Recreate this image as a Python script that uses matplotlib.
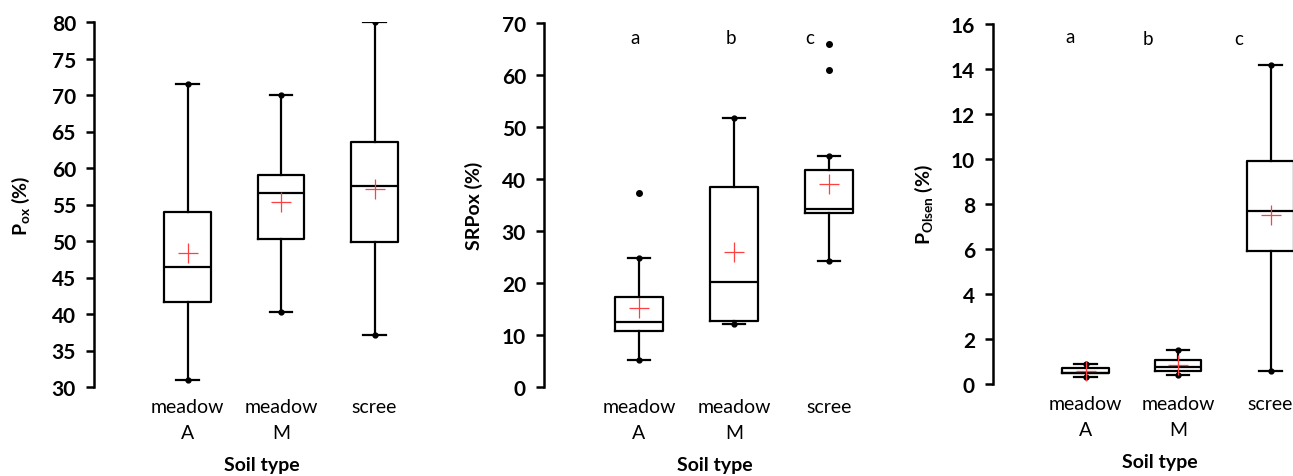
import numpy as np
import matplotlib
matplotlib.use('Agg')
import matplotlib.pyplot as plt

plt.rcParams['font.family'] = ['Lato', 'DejaVu Sans']
plt.rcParams['mathtext.fontset'] = 'custom'
plt.rcParams['mathtext.rm'] = 'Lato'
plt.rcParams['mathtext.bf'] = 'Lato:bold'
plt.rcParams['mathtext.it'] = 'Lato:italic'

categories = ['meadow\nA', 'meadow\nM', 'scree']

# box statistics: low whisker, Q1, median, Q3, high whisker, mean
pox_low = [31.0, 40.3, 37.1]
pox_q1 = [41.6, 50.3, 49.9]
pox_med = [46.5, 56.6, 57.5]
pox_q3 = [54.0, 59.0, 63.5]
pox_high = [71.5, 70.0, 80.0]
pox_mean = [48.3, 55.3, 57.1]
pox_fliers = [[], [], []]

srp_low = [5.2, 12.2, 24.2]
srp_q1 = [10.8, 12.7, 33.5]
srp_med = [12.5, 20.1, 34.3]
srp_q3 = [17.3, 38.4, 41.7]
srp_high = [24.8, 51.7, 44.5]
srp_mean = [15.2, 25.9, 39.0]
srp_fliers = [[37.3], [], [61.0, 66.0]]
srp_letters = ['a', 'b', 'c']

ols_low = [0.31, 0.40, 0.58]
ols_q1 = [0.47, 0.60, 5.9]
ols_med = [0.50, 0.74, 7.7]
ols_q3 = [0.71, 1.07, 9.93]
ols_high = [0.88, 1.51, 14.2]
ols_mean = [0.58, 0.84, 7.5]
ols_fliers = [[], [], []]
ols_letters = ['a', 'b', 'c']

W, H = 1293, 477
fig = plt.figure(figsize=(W / 100, H / 100), dpi=100)


def make_ax(left_px, top_px, bottom_px, spacing_px):
    width_px = 3.6 * spacing_px
    return fig.add_axes([left_px / W, 1 - bottom_px / H, width_px / W, (bottom_px - top_px) / H])


def draw(ax, low, q1, med, q3, high, mean, fliers, ylim, yticks, ylabel, label_x):
    stats = []
    for i in range(3):
        stats.append(dict(whislo=low[i], q1=q1[i], med=med[i], q3=q3[i], whishi=high[i],
                          mean=mean[i], fliers=fliers[i]))
    pos = [1, 2, 3]
    ax.bxp(stats, positions=pos, widths=0.5, showmeans=True, showfliers=True,
           capwidths=0.24,
           boxprops=dict(color='black', linewidth=1.6),
           medianprops=dict(color='black', linewidth=1.6),
           whiskerprops=dict(color='black', linewidth=1.6),
           capprops=dict(color='black', linewidth=1.6),
           meanprops=dict(marker='+', markeredgecolor='#ff4040', markersize=15,
                          markeredgewidth=0.9),
           flierprops=dict(marker='o', markerfacecolor='black', markeredgecolor='black',
                           markersize=4))
    ax.plot(pos, low, 'o', color='black', markersize=3.5)
    ax.plot(pos, high, 'o', color='black', markersize=3.5)
    ax.set_xlim(0, 3.6)
    ax.set_ylim(*ylim)
    ax.set_yticks(yticks)
    ax.set_xticks(pos)
    ax.set_xticklabels(categories, fontsize=14, linespacing=1.6)
    ax.tick_params(axis='x', length=0, pad=8)
    ax.tick_params(axis='y', direction='out', length=6, width=1.8, labelsize=15, pad=7)
    for t in ax.get_yticklabels():
        t.set_fontweight('bold')
    for s in ['top', 'right', 'bottom']:
        ax.spines[s].set_visible(False)
    ax.spines['left'].set_linewidth(1.8)
    ax.set_xlabel('Soil type', fontsize=14, fontweight='bold', labelpad=11)
    ax.set_ylabel(ylabel, fontsize=14, fontweight='bold')
    ax.yaxis.set_label_coords(label_x, 0.5)


ax1 = make_ax(94, 23, 388, 93.5)
draw(ax1, pox_low, pox_q1, pox_med, pox_q3, pox_high, pox_mean, pox_fliers,
     (30, 80), range(30, 81, 5), r'$\mathbf{P_{ox}}$ (%)', -0.185)

ax2 = make_ax(544, 24, 388, 95)
draw(ax2, srp_low, srp_q1, srp_med, srp_q3, srp_high, srp_mean, srp_fliers,
     (0, 70), range(0, 71, 10), 'SRPox (%)', -0.178)
for x, s in zip([0.96, 1.97, 2.8], srp_letters):
    ax2.text(x, 67.3, s, ha='center', va='center', fontsize=13.5)

ax3 = make_ax(993, 25, 385, 92.5)
draw(ax3, ols_low, ols_q1, ols_med, ols_q3, ols_high, ols_mean, ols_fliers,
     (0, 16), range(0, 17, 2), r'$\mathbf{P_{Olsen}}$ (%)', -0.174)
for x, y, s in zip([0.83, 1.67, 2.66], [15.45, 15.35, 15.35], ols_letters):
    ax3.text(x, y, s, ha='center', va='center', fontsize=13.5)

fig.savefig('out.png', dpi=100)
